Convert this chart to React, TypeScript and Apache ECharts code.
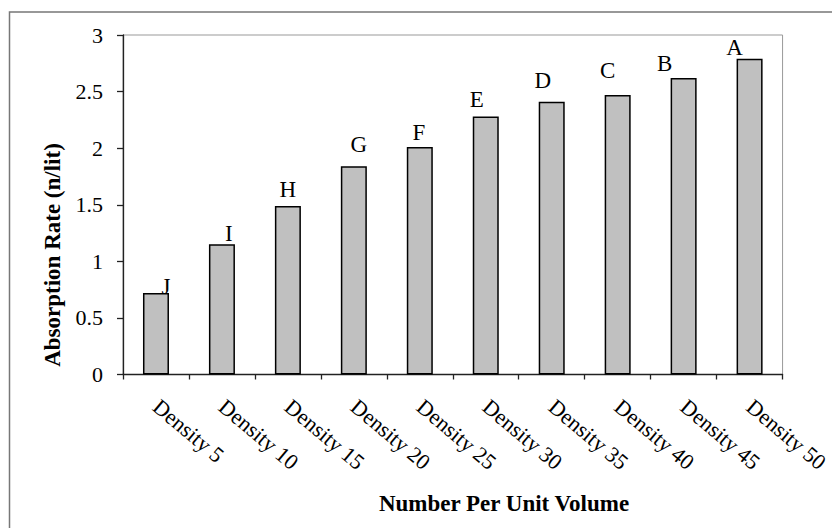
import React, { useEffect, useRef } from "react";
import * as echarts from "echarts";

const categories = [
  "Density 5",
  "Density 10",
  "Density 15",
  "Density 20",
  "Density 25",
  "Density 30",
  "Density 35",
  "Density 40",
  "Density 45",
  "Density 50",
];
const absorptionRate = [0.72, 1.15, 1.49, 1.84, 2.01, 2.28, 2.41, 2.47, 2.62, 2.79];
const groupLetters = ["J", "I", "H", "G", "F", "E", "D", "C", "B", "A"];
const yMin = 0;
const yMax = 3;
const yStep = 0.5;
const yTitle = "Absorption Rate (n/lit)";
const xTitle = "Number Per Unit Volume";

// label nudges (style only): [dx, dy] in px
const letterNudge = [
  [10, 5],
  [7, 1],
  [0, -5],
  [5, -10],
  [-1, -3],
  [-9, -5],
  [-9, -10],
  [-10, -13],
  [-19, -3],
  [-15, 0],
];

const FONT = "'Liberation Serif', 'Times New Roman', serif";

export default function App() {
  const ref = useRef<HTMLDivElement>(null);
  useEffect(() => {
    if (!ref.current) return;
    const chart = echarts.init(ref.current, undefined, { renderer: "svg" });
    chart.setOption({
      animation: false,
      backgroundColor: "#ffffff",
      textStyle: { fontFamily: FONT, color: "#000" },
      grid: {
        left: 123,
        top: 35,
        right: 40.5,
        bottom: 153.5,
        show: true,
        borderColor: "#999999",
        borderWidth: 1,
        backgroundColor: "transparent",
      },
      xAxis: {
        type: "category",
        data: categories,
        boundaryGap: true,
        axisLine: { lineStyle: { color: "#222", width: 1.3 } },
        axisTick: { show: true, length: 5, lineStyle: { color: "#222", width: 1.3 } },
        axisLabel: {
          interval: 0,
          rotate: -40,
          margin: 29,
          fontSize: 22,
          fontFamily: FONT,
          color: "#000",
        },
        splitLine: { show: false },
      },
      yAxis: {
        type: "value",
        min: yMin,
        max: yMax,
        interval: yStep,
        axisLine: { show: true, lineStyle: { color: "#222", width: 1.3 } },
        axisTick: { show: true, length: 6, lineStyle: { color: "#222", width: 1.3 } },
        axisLabel: { margin: 20, fontSize: 22, fontFamily: FONT, color: "#000" },
        splitLine: { show: false },
      },
      series: [
        {
          type: "bar",
          barWidth: 26,
          data: absorptionRate.map((v, i) => ({
            value: v,
            label: {
              show: true,
              position: "top",
              distance: 0,
              offset: letterNudge[i],
              formatter: groupLetters[i],
              fontSize: 23,
              fontFamily: FONT,
              color: "#000",
            },
          })),
          itemStyle: { color: "#c0c0c0", borderColor: "#000", borderWidth: 1.5 },
        },
      ],
      graphic: [
        {
          type: "rect",
          silent: true,
          shape: { x: 9.5, y: 12, width: 900, height: 600 },
          style: { fill: "none", stroke: "#777", lineWidth: 1.5 },
        },
        {
          type: "text",
          x: 52,
          y: 255,
          rotation: Math.PI / 2,
          style: {
            text: yTitle,
            fontSize: 23,
            fontWeight: "bold",
            fontFamily: FONT,
            fill: "#000",
            textAlign: "center",
            textVerticalAlign: "middle",
          },
        },
        {
          type: "text",
          x: 504,
          y: 503,
          style: {
            text: xTitle,
            fontSize: 23,
            fontWeight: "bold",
            fontFamily: FONT,
            fill: "#000",
            textAlign: "center",
            textVerticalAlign: "middle",
          },
        },
      ],
    });
    return () => chart.dispose();
  }, []);
  return (
    <div
      ref={ref}
      style={{ position: "absolute", left: 0, top: 0, width: 832, height: 528 }}
    />
  );
}
